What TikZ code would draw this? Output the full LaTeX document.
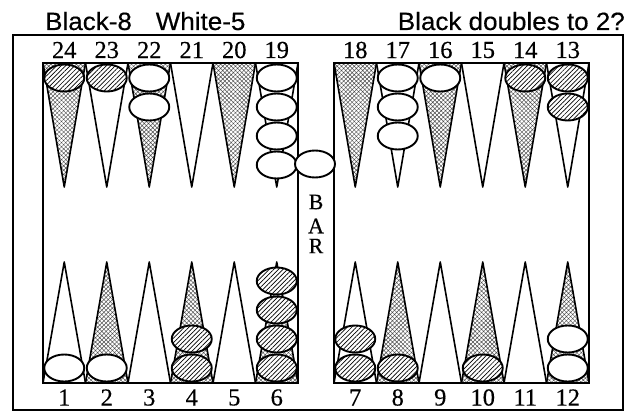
\documentclass[tikz,border=0pt]{standalone}
\usepackage{fontspec}
\setmainfont{Liberation Serif}
\newfontfamily\numfont[FakeBold=0.4]{Liberation Serif}
\newfontfamily\titlefont[FakeBold=0.4]{Liberation Sans}
\usetikzlibrary{patterns.meta,shapes.geometric}
\begin{document}
\begin{tikzpicture}[x=1pt,y=-1pt,
  pointw/.style={draw=black, line width=1.6pt, line join=round, fill=white},
  pointd/.style={draw=black, line width=1.6pt, line join=round, preaction={fill=white},
    pattern={Hatch[angle=45,distance=3pt,line width=0.45pt]}, pattern color=black!70},
  chk/.style={ellipse, minimum width=40pt, minimum height=27pt, inner sep=0pt, draw=black, line width=1.9pt},
  wchk/.style={chk, fill=white},
  bchk/.style={chk, preaction={fill=white}, pattern={Lines[angle=45,distance=3.2pt,line width=0.7pt]}},
  board/.style={draw=black, line width=2.2pt},
  numlab/.style={font=\numfont\fontsize{24.5}{24.5}\selectfont, inner sep=0pt},
  titlelab/.style={font=\titlefont\fontsize{25}{25}\selectfont, inner sep=0pt},
  barlab/.style={font=\numfont\fontsize{22}{22}\selectfont, inner sep=0pt}
]
\useasboundingbox (0,0) rectangle (637,412);
\fill[white] (0,0) rectangle (637,412);

% titles
\node[titlelab, anchor=base west] (t1) at (45,30) {\scalebox{1.04}[1]{Black-8\hspace{23pt}White-5}};
\node[titlelab, anchor=base east] (t2) at (625,30) {\scalebox{1.04}[1]{Black doubles to 2?}};

% outer frame
\draw[board, line width=2.4pt] (13,35) rectangle (623,410);

% points
\foreach \k/\top/\bot in {0/24/1,1/23/2,2/22/3,3/21/4,4/20/5,5/19/6}{
  \pgfmathsetmacro{\cx}{64.25+42.5*\k}
  \pgfmathsetmacro{\ia}{int(mod(\k,2))}
  \ifnum\ia=0
    \path[pointd] (\cx-21.25,63) -- (\cx,187) -- (\cx+21.25,63) -- cycle;
    \path[pointw] (\cx-21.25,383) -- (\cx,262) -- (\cx+21.25,383) -- cycle;
  \else
    \path[pointw] (\cx-21.25,63) -- (\cx,187) -- (\cx+21.25,63) -- cycle;
    \path[pointd] (\cx-21.25,383) -- (\cx,262) -- (\cx+21.25,383) -- cycle;
  \fi
  \node[numlab] (n\top) at (\cx,50) {\top};
  \node[numlab] (n\bot) at (\cx,397.5) {\bot};
}
\foreach \k/\top/\bot in {0/18/7,1/17/8,2/16/9,3/15/10,4/14/11,5/13/12}{
  \pgfmathsetmacro{\cx}{355.25+42.5*\k}
  \pgfmathsetmacro{\ia}{int(mod(\k,2))}
  \ifnum\ia=0
    \path[pointd] (\cx-21.25,63) -- (\cx,187) -- (\cx+21.25,63) -- cycle;
    \path[pointw] (\cx-21.25,383) -- (\cx,262) -- (\cx+21.25,383) -- cycle;
  \else
    \path[pointw] (\cx-21.25,63) -- (\cx,187) -- (\cx+21.25,63) -- cycle;
    \path[pointd] (\cx-21.25,383) -- (\cx,262) -- (\cx+21.25,383) -- cycle;
  \fi
  \node[numlab] (n\top) at (\cx,50) {\top};
  \node[numlab] (n\bot) at (\cx,397.5) {\bot};
}

% checkers: top rows
\node[bchk] (c24a) at (64.25,78) {};
\node[bchk] (c23a) at (106.75,78) {};
\node[wchk] (c22a) at (149.25,78) {};
\node[wchk] (c22b) at (149.25,107) {};
\foreach \n/\yy in {a/78,b/107,c/136,d/165}{
  \node[wchk] (c19\n) at (276.75,\yy) {};
}
\foreach \n/\yy in {a/78,b/107,c/136}{
  \node[wchk] (c17\n) at (397.75,\yy) {};
}
\node[wchk] (c16a) at (440.25,78) {};
\node[bchk] (c14a) at (525.25,78) {};
\node[bchk] (c13a) at (567.75,78) {};
\node[bchk] (c13b) at (567.75,107) {};

% checkers: bottom rows
\node[wchk] (c1a) at (64.25,368) {};
\node[wchk] (c2a) at (106.75,368) {};
\node[bchk] (c4a) at (191.75,368) {};
\node[bchk] (c4b) at (191.75,339) {};
\foreach \n/\yy in {a/368,b/339,c/310,d/281}{
  \node[bchk] (c6\n) at (276.75,\yy) {};
}
\node[bchk] (c7a) at (355.25,368) {};
\node[bchk] (c7b) at (355.25,339) {};
\node[bchk] (c8a) at (397.75,368) {};
\node[bchk] (c10a) at (482.75,368) {};
\node[wchk] (c12a) at (567.75,368) {};
\node[wchk] (c12b) at (567.75,339) {};

% boards
\draw[board] (43,63) rectangle (298,383);
\draw[board] (334,63) rectangle (589,383);

% bar
\node[wchk] (cbar) at (315,164) {};
\node[barlab] (bB) at (316,202) {B};
\node[barlab] (bA) at (316,226) {A};
\node[barlab] (bR) at (316,246) {R};
\end{tikzpicture}
\end{document}
